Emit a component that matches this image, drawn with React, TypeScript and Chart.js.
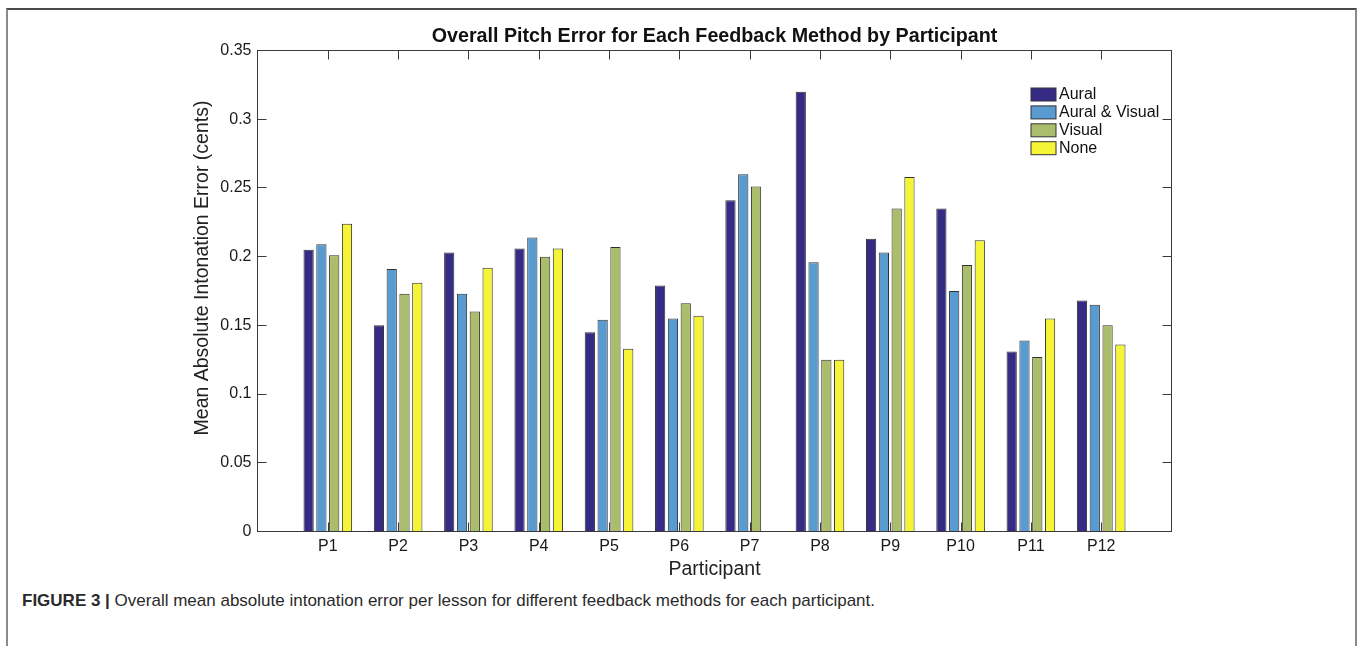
import { useEffect, useRef } from 'react';
import { Chart, registerables } from 'chart.js';

Chart.register(...registerables);

const participants = ['P1', 'P2', 'P3', 'P4', 'P5', 'P6', 'P7', 'P8', 'P9', 'P10', 'P11', 'P12'];
const aural = [0.205, 0.150, 0.203, 0.206, 0.145, 0.179, 0.241, 0.320, 0.213, 0.235, 0.131, 0.168];
const auralVisual = [0.209, 0.191, 0.173, 0.214, 0.154, 0.155, 0.260, 0.196, 0.203, 0.175, 0.139, 0.165];
const visual = [0.201, 0.173, 0.160, 0.200, 0.207, 0.166, 0.251, 0.125, 0.235, 0.194, 0.127, 0.150];
const none = [0.224, 0.181, 0.192, 0.206, 0.133, 0.157, 0, 0.125, 0.258, 0.212, 0.155, 0.136];
const seriesNames = ['Aural', 'Aural & Visual', 'Visual', 'None'];
const seriesColors = ['#352b84', '#589bd0', '#aabd6a', '#f5f437'];
const yTicks = [0, 0.05, 0.1, 0.15, 0.2, 0.25, 0.3, 0.35];

const chartTitle = 'Overall Pitch Error for Each Feedback Method by Participant';
const xTitle = 'Participant';
const yTitle = 'Mean Absolute Intonation Error (cents)';

const FONT = '"Liberation Sans", Arial, Helvetica, sans-serif';

// Boxed axes with inward tick marks on all four sides, titles and an unframed legend
const boxedAxes = {
  id: 'boxedAxes',
  afterDatasetsDraw(chart: any) {
    const { ctx, chartArea: a, scales } = chart;
    ctx.save();
    ctx.strokeStyle = '#3a3a3a';
    ctx.lineWidth = 1;
    ctx.strokeRect(a.left, a.top, a.right - a.left, a.bottom - a.top);
    const tl = 9;
    ctx.beginPath();
    participants.forEach((_, i) => {
      const x = Math.round(scales.x.getPixelForValue(i + 1)) + 0.5;
      ctx.moveTo(x, a.bottom);
      ctx.lineTo(x, a.bottom - tl);
      ctx.moveTo(x, a.top);
      ctx.lineTo(x, a.top + tl);
    });
    yTicks.forEach((v) => {
      const y = Math.round(scales.y.getPixelForValue(v) - 0.5) + 0.5;
      ctx.moveTo(a.left, y);
      ctx.lineTo(a.left + tl, y);
      ctx.moveTo(a.right, y);
      ctx.lineTo(a.right - tl, y);
    });
    ctx.stroke();
    ctx.restore();
  },
  afterDraw(chart: any) {
    const { ctx, chartArea: a } = chart;
    const cx = (a.left + a.right) / 2;
    ctx.save();
    ctx.fillStyle = '#111';
    ctx.textAlign = 'center';
    ctx.textBaseline = 'alphabetic';
    ctx.font = `bold 19.7px ${FONT}`;
    ctx.fillText(chartTitle, cx, 41.5);
    ctx.font = `19.5px ${FONT}`;
    ctx.fillStyle = '#222';
    ctx.fillText(xTitle, cx, 574.5);
    ctx.save();
    ctx.translate(207.5, 268);
    ctx.rotate(-Math.PI / 2);
    ctx.fillText(yTitle, 0, 0);
    ctx.restore();

    // legend
    const lx = a.right - 140.5;
    const ly = a.top + 37.5;
    const pitch = 17.9;
    ctx.font = `16px ${FONT}`;
    ctx.textAlign = 'left';
    ctx.textBaseline = 'middle';
    seriesNames.forEach((name, i) => {
      const y = ly + i * pitch;
      ctx.fillStyle = seriesColors[i];
      ctx.fillRect(lx, y, 25, 13);
      ctx.strokeStyle = '#333';
      ctx.lineWidth = 1;
      ctx.strokeRect(lx, y, 25, 13);
      ctx.fillStyle = '#111';
      ctx.fillText(name, lx + 28, y + 7);
    });
    ctx.restore();
  },
};

export default function App() {
  const canvasRef = useRef<HTMLCanvasElement | null>(null);

  useEffect(() => {
    const canvas = canvasRef.current;
    if (!canvas) return;
    const series = [aural, auralVisual, visual, none];
    const chart = new Chart(canvas, {
      type: 'bar',
      data: {
        datasets: series.map((vals, s) => ({
          label: seriesNames[s],
          data: vals.map((v, i) => ({ x: i + 1, y: v })),
          backgroundColor: seriesColors[s],
          borderColor: '#303030',
          borderWidth: 1,
          barPercentage: 0.8,
          categoryPercentage: 0.728,
        })),
      },
      options: {
        responsive: false,
        animation: false,
        events: [],
        layout: { padding: { left: 197.5, top: 50.5, right: 188.5, bottom: 0 } },
        plugins: {
          legend: { display: false },
          title: { display: false },
          tooltip: { enabled: false },
        },
        scales: {
          x: {
            type: 'linear',
            min: 0,
            max: 13,
            offset: false,
            grid: { display: false, drawTicks: false, offset: false },
            border: { display: false },
            afterBuildTicks: (s: any) => {
              s.ticks = participants.map((_, i) => ({ value: i + 1 }));
            },
            ticks: {
              autoSkip: false,
              maxRotation: 0,
              padding: 5,
              color: '#1a1a1a',
              font: { family: FONT, size: 16 },
              callback: (v: any) => participants[Math.round(Number(v)) - 1] ?? '',
            },
            afterFit: (s: any) => {
              s.height = 590 - 531.5;
            },
          },
          y: {
            type: 'linear',
            min: 0,
            max: 0.35,
            grid: { display: false, drawTicks: false },
            border: { display: false },
            afterBuildTicks: (s: any) => {
              s.ticks = yTicks.map((v) => ({ value: v }));
            },
            ticks: {
              padding: 6,
              color: '#1a1a1a',
              font: { family: FONT, size: 16 },
              callback: (v: any) => String(Number(Number(v).toFixed(2))),
            },
            afterFit: (s: any) => {
              s.width = 60;
            },
          },
        },
      },
      plugins: [boxedAxes],
    });
    return () => chart.destroy();
  }, []);

  return (
    <div style={{ position: 'absolute', left: 0, top: 0, width: 1360, height: 646, overflow: 'hidden', background: '#fff' }}>
      <div
        style={{
          position: 'absolute',
          left: 6,
          top: 8,
          width: 1347,
          height: 638,
          borderLeft: '2px solid #8a8a8a',
          borderTop: '2px solid #4a4a4a',
          borderRight: '2px solid #8a8a8a',
        }}
      />
      <canvas ref={canvasRef} width={1360} height={590} style={{ position: 'absolute', left: 0, top: 0 }} />
      <div
        style={{
          position: 'absolute',
          left: 22,
          top: 591,
          fontFamily: FONT,
          fontSize: 17,
          color: '#2a2a2a',
          whiteSpace: 'nowrap',
          lineHeight: '20px',
        }}
      >
        <b>FIGURE 3 |</b> Overall mean absolute intonation error per lesson for different feedback methods for each participant.
      </div>
    </div>
  );
}
